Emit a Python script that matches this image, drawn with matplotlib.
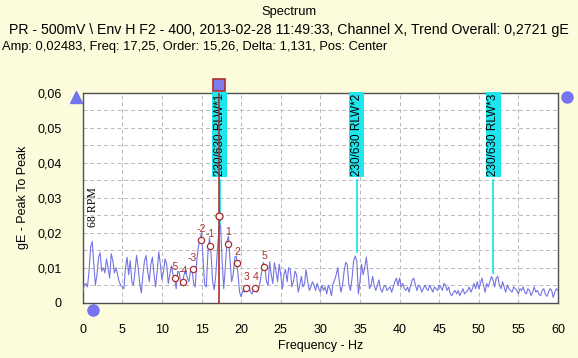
import numpy as np
import matplotlib
matplotlib.use("Agg")
import matplotlib.pyplot as plt
from matplotlib.ticker import MultipleLocator, FuncFormatter

plt.rcParams['font.family'] = ['Liberation Sans', 'DejaVu Sans']

# spectrum, one value every 0.2 Hz from 0 to 60 Hz (gE peak to peak)
freq_step = 0.2
amp = [
    # 0 - 5 Hz
    0.0032, 0.0050, 0.0055, 0.0045, 0.0090, 0.0160, 0.0175, 0.0110, 0.0050, 0.0080,
    0.0130, 0.0143, 0.0090, 0.0100, 0.0085, 0.0125, 0.0100, 0.0070, 0.0140, 0.0120,
    0.0085, 0.0100, 0.0080, 0.0060, 0.0050,
    # 5 - 10 Hz
    0.0045, 0.0040, 0.0100, 0.0130, 0.0080, 0.0120, 0.0060, 0.0050, 0.0090, 0.0135,
    0.0100, 0.0055, 0.0028, 0.0080, 0.0120, 0.0135, 0.0090, 0.0060, 0.0110, 0.0130,
    0.0080, 0.0045, 0.0090, 0.0145, 0.0110,
    # 10 - 15 Hz
    0.0065, 0.0090, 0.0125, 0.0110, 0.0055, 0.0080, 0.0105, 0.0080, 0.0070, 0.0040,
    0.0090, 0.0085, 0.0050, 0.0060, 0.0080, 0.0095, 0.0070, 0.0060, 0.0090, 0.0096,
    0.0055, 0.0045, 0.0120, 0.0160, 0.0180,
    # 15 - 20 Hz
    0.0200, 0.0120, 0.0050, 0.0045, 0.0140, 0.0185, 0.0140, 0.0060, 0.0037, 0.0080,
    0.0150, 0.0210, 0.0224, 0.0120, 0.0040, 0.0100, 0.0175, 0.0190, 0.0120, 0.0060,
    0.0080, 0.0130, 0.0133, 0.0080, 0.0030,
    # 20 - 25 Hz
    0.0017, 0.0035, 0.0030, 0.0042, 0.0035, 0.0045, 0.0030, 0.0025, 0.0040, 0.0042,
    0.0030, 0.0040, 0.0060, 0.0090, 0.0115, 0.0100, 0.0060, 0.0050, 0.0117, 0.0080,
    0.0055, 0.0114, 0.0090, 0.0060, 0.0110,
    # 25 - 30 Hz
    0.0080, 0.0040, 0.0080, 0.0095, 0.0060, 0.0100, 0.0095, 0.0045, 0.0060, 0.0090,
    0.0080, 0.0030, 0.0050, 0.0075, 0.0045, 0.0055, 0.0095, 0.0060, 0.0035, 0.0045,
    0.0060, 0.0050, 0.0035, 0.0055, 0.0040,
    # 30 - 35 Hz
    0.0030, 0.0050, 0.0035, 0.0045, 0.0025, 0.0050, 0.0040, 0.0020, 0.0055, 0.0065,
    0.0080, 0.0100, 0.0060, 0.0030, 0.0050, 0.0090, 0.0115, 0.0110, 0.0050, 0.0035,
    0.0070, 0.0120, 0.0133, 0.0120, 0.0025,
    # 35 - 40 Hz
    0.0060, 0.0110, 0.0080, 0.0100, 0.0130, 0.0090, 0.0040, 0.0050, 0.0075, 0.0050,
    0.0035, 0.0050, 0.0065, 0.0040, 0.0030, 0.0045, 0.0050, 0.0035, 0.0040, 0.0045,
    0.0030, 0.0045, 0.0060, 0.0070, 0.0050,
    # 40 - 45 Hz
    0.0070, 0.0045, 0.0055, 0.0040, 0.0035, 0.0045, 0.0030, 0.0050, 0.0065, 0.0070,
    0.0050, 0.0035, 0.0050, 0.0045, 0.0030, 0.0040, 0.0050, 0.0040, 0.0035, 0.0050,
    0.0040, 0.0030, 0.0045, 0.0040, 0.0035,
    # 45 - 50 Hz
    0.0050, 0.0045, 0.0035, 0.0055, 0.0050, 0.0035, 0.0045, 0.0025, 0.0020, 0.0030,
    0.0035, 0.0025, 0.0035, 0.0020, 0.0030, 0.0040, 0.0025, 0.0030, 0.0035, 0.0045,
    0.0030, 0.0040, 0.0055, 0.0040, 0.0060,
    # 50 - 55 Hz
    0.0040, 0.0055, 0.0070, 0.0050, 0.0030, 0.0055, 0.0045, 0.0060, 0.0075, 0.0065,
    0.0045, 0.0070, 0.0075, 0.0050, 0.0040, 0.0060, 0.0045, 0.0030, 0.0050, 0.0040,
    0.0035, 0.0030, 0.0045, 0.0040, 0.0035,
    # 55 - 60 Hz
    0.0025, 0.0040, 0.0035, 0.0045, 0.0030, 0.0025, 0.0040, 0.0035, 0.0020, 0.0030,
    0.0045, 0.0030, 0.0035, 0.0025, 0.0020, 0.0035, 0.0040, 0.0025, 0.0018, 0.0030,
    0.0040, 0.0035, 0.0015, 0.0030, 0.0040, 0.0035,
]
freq = np.arange(len(amp)) * freq_step

# cursor
cursor_freq = 17.25
cursor_amp = 0.02483

# sidebands
sb_labels = ['-5', '-4', '-3', '-2', '-1', '1', '2', '3', '4', '5']
sb_freq = [11.59, 12.72, 13.86, 14.99, 16.12, 18.38, 19.51, 20.64, 21.77, 22.91]
sb_amp = [0.0070, 0.0059, 0.0096, 0.0179, 0.0163, 0.0169, 0.0112, 0.0042, 0.0042, 0.0102]

# bearing fault frequency markers
rlw_labels = ['230/630 RLW*1', '230/630 RLW*2', '230/630 RLW*3']
rlw_freq = [17.28, 34.6, 51.85]
rlw_amp = [0.0224, 0.0144, 0.0086]

title1 = 'Spectrum'
title2 = 'PR - 500mV \\ Env H F2 - 400, 2013-02-28 11:49:33, Channel X, Trend Overall: 0,2721 gE'
title3 = 'Amp: 0,02483, Freq: 17,25, Order: 15,26, Delta: 1,131, Pos: Center'

bg = '#fcfcdc'
line_col = '#7474e4'
cur_col = '#a8302c'
cyan = '#1ee6ee'
handle_col = '#7474f0'

fig = plt.figure(figsize=(5.78, 3.58), dpi=100, facecolor=bg)
ax = fig.add_axes([0.1431, 0.1545, 0.8223, 0.5866])
ax.set_facecolor('white')

ax.plot(freq, amp, color=line_col, lw=0.8, zorder=3)

ax.set_xlim(0, 60)
ax.set_ylim(0, 0.06)
ax.xaxis.set_major_locator(MultipleLocator(5))
ax.yaxis.set_major_locator(MultipleLocator(0.01))
ax.yaxis.set_minor_locator(MultipleLocator(0.005))
ax.yaxis.set_major_formatter(FuncFormatter(lambda v, p: '0' if abs(v) < 1e-9 else ('%.2f' % v).replace('.', ',')))
ax.grid(True, which='both', color='#b8b8b8', ls=(0, (4, 3)), lw=0.7)
ax.tick_params(which='both', length=0, labelsize=9, colors='black')
ax.tick_params(axis='x', pad=15)
ax.tick_params(axis='y', pad=15)
for s in ax.spines.values():
    s.set_color('#505050')
    s.set_linewidth(1.0)

ax.set_xlabel('Frequency - Hz', fontsize=9, labelpad=3)
ax.set_ylabel('gE - Peak To Peak', fontsize=9, labelpad=6)

# RLW labels and stems
for lab, f, a in zip(rlw_labels, rlw_freq, rlw_amp):
    ax.plot([f, f], [a, 0.035], color=cyan, lw=1.3, zorder=4)
    ax.text(f, 0.0598, lab, rotation=90, ha='center', va='top', fontsize=8.5,
            bbox=dict(boxstyle='square,pad=0.12', fc=cyan, ec='none'), zorder=5)

# cursor line
ax.axvline(cursor_freq, color=cur_col, lw=1.2, zorder=6)
ax.plot([cursor_freq], [0.0623], marker='s', ms=9, mfc='#7c7cec', mec=cur_col, mew=1.2,
        clip_on=False, zorder=7)
ax.plot([cursor_freq], [cursor_amp], marker='o', ms=5, mfc='white', mec=cur_col, mew=1.0, zorder=7)

# sideband markers
ax.plot(sb_freq, sb_amp, ls='none', marker='o', ms=4.5, mfc='white', mec=cur_col, mew=0.9, zorder=7)
for lab, f, a in zip(sb_labels, sb_freq, sb_amp):
    ax.annotate(lab, (f, a), xytext=(0, 4.5), textcoords='offset points', ha='center', va='bottom',
                fontsize=7.5, color=cur_col, zorder=7)

ax.text(1.3, 0.0273, '68 RPM', rotation=90, ha='center', va='center', fontsize=8.5,
        family=['Liberation Serif', 'DejaVu Serif'])

# cursor handles
ax.plot([-0.014], [0.979], marker='^', ms=9, color=handle_col, transform=ax.transAxes, clip_on=False)
ax.plot([0.0217], [-0.035], marker='o', ms=8, color=handle_col, transform=ax.transAxes, clip_on=False)
ax.plot([1.019], [0.979], marker='o', ms=8, color=handle_col, transform=ax.transAxes, clip_on=False)

fig.text(0.5, 0.966, title1, ha='center', va='center', fontsize=9.3)
fig.text(0.5, 0.916, title2, ha='center', va='center', fontsize=10.2)
fig.text(0.004, 0.869, title3, ha='left', va='center', fontsize=9.3)

fig.savefig('out.png', dpi=100, facecolor=bg)
